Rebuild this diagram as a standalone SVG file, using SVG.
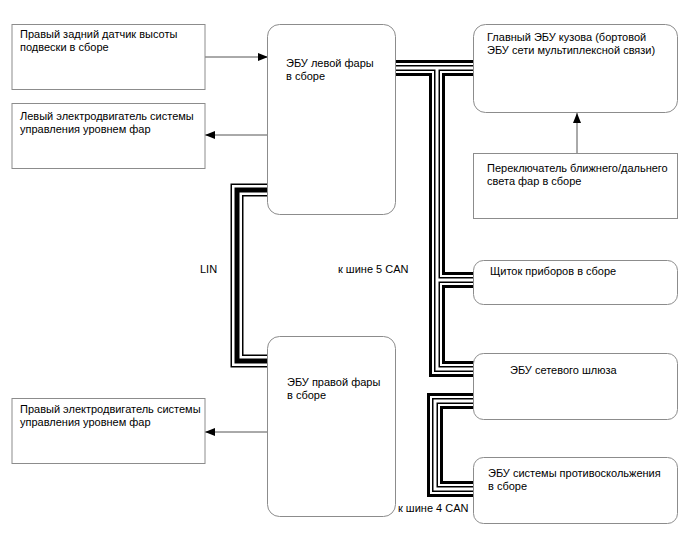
<svg xmlns="http://www.w3.org/2000/svg" xmlns:xlink="http://www.w3.org/1999/xlink" width="688" height="560" viewBox="0 0 688 560">
<style>
text{font-family:"Liberation Sans",Arial,sans-serif;font-size:11px;fill:#000}
.box{fill:#fff;stroke:#8c8c8c;stroke-width:1}
.arr{fill:none;stroke:#555;stroke-width:1}
.bus{fill:none;stroke-linejoin:miter;stroke-linecap:butt}
.c1{stroke:#000;stroke-width:16}
.c2{stroke:#fff;stroke-width:10}
.c3{stroke:#000;stroke-width:6}
.c4{stroke:#fff;stroke-width:3}
.l1{stroke:#000;stroke-width:13}
.l2{stroke:#fff;stroke-width:10}
.l3{stroke:#000;stroke-width:5}
</style>
<defs>
<marker id="ah" viewBox="0 0 10 8" refX="10" refY="4" markerWidth="10" markerHeight="8" markerUnits="userSpaceOnUse" orient="auto">
<path d="M0,0 L10,4 L0,8 Z" fill="#000"/>
</marker>
<path id="can5" d="M395,68 H474 M437,68 V369 H474 M437,280 H474"/>
<path id="can4" d="M474,401 H435 V489 H474"/>
<path id="lin" d="M268,190 H237 V361 H268"/>
</defs>
<rect width="688" height="560" fill="#fff"/>
<g id="connectors">
<use xlink:href="#can5" class="bus c1"/><use xlink:href="#can5" class="bus c2"/><use xlink:href="#can5" class="bus c3"/><use xlink:href="#can5" class="bus c4"/>
<use xlink:href="#can4" class="bus c1"/><use xlink:href="#can4" class="bus c2"/><use xlink:href="#can4" class="bus c3"/><use xlink:href="#can4" class="bus c4"/>
<use xlink:href="#lin" class="bus l1"/><use xlink:href="#lin" class="bus l2"/><use xlink:href="#lin" class="bus l3"/>
<path class="arr" d="M205,57 H268" marker-end="url(#ah)"/>
<path class="arr" d="M268,135 H205" marker-end="url(#ah)"/>
<path class="arr" d="M268,432 H205" marker-end="url(#ah)"/>
<path class="arr" d="M577,153 V113" marker-end="url(#ah)"/>
<text x="200" y="273">LIN</text>
<text x="338" y="273">к шине 5 CAN</text>
<text x="398" y="512">к шине 4 CAN</text>
</g>
<g id="sensor">
<rect class="box" x="12" y="24.5" width="193" height="65"/>
<text x="20" y="38">Правый задний датчик высоты</text>
<text x="20" y="51">подвески в сборе</text>
</g>
<g id="left-motor">
<rect class="box" x="12" y="103.5" width="193" height="65"/>
<text x="20" y="120">Левый электродвигатель системы</text>
<text x="20" y="133">управления уровнем фар</text>
</g>
<g id="left-ecu">
<rect class="box" x="267.5" y="24.5" width="128" height="190" rx="12"/>
<text x="286" y="67">ЭБУ левой фары</text>
<text x="286" y="80">в сборе</text>
</g>
<g id="body-ecu">
<rect class="box" x="473.5" y="24.5" width="204" height="88" rx="12"/>
<text x="487" y="41">Главный ЭБУ кузова (бортовой</text>
<text x="487" y="54">ЭБУ сети мультиплексной связи)</text>
</g>
<g id="switch">
<rect class="box" x="473.5" y="153.5" width="204" height="65"/>
<text x="487" y="172">Переключатель ближнего/дальнего</text>
<text x="487" y="185">света фар в сборе</text>
</g>
<g id="meter">
<rect class="box" x="473.5" y="260.5" width="204" height="44" rx="10"/>
<text x="490" y="275">Щиток приборов в сборе</text>
</g>
<g id="gateway">
<rect class="box" x="473.5" y="353.5" width="204" height="66" rx="10"/>
<text x="510" y="374">ЭБУ сетевого шлюза</text>
</g>
<g id="skid-ecu">
<rect class="box" x="473.5" y="457.5" width="204" height="66" rx="10"/>
<text x="488" y="477">ЭБУ системы противоскольжения</text>
<text x="488" y="490">в сборе</text>
</g>
<g id="right-ecu">
<rect class="box" x="267.5" y="336.5" width="128" height="180" rx="12"/>
<text x="287" y="386">ЭБУ правой фары</text>
<text x="287" y="399">в сборе</text>
</g>
<g id="right-motor">
<rect class="box" x="12" y="398.5" width="193" height="65"/>
<text x="20" y="413">Правый электродвигатель системы</text>
<text x="20" y="426">управления уровнем фар</text>
</g>
</svg>
